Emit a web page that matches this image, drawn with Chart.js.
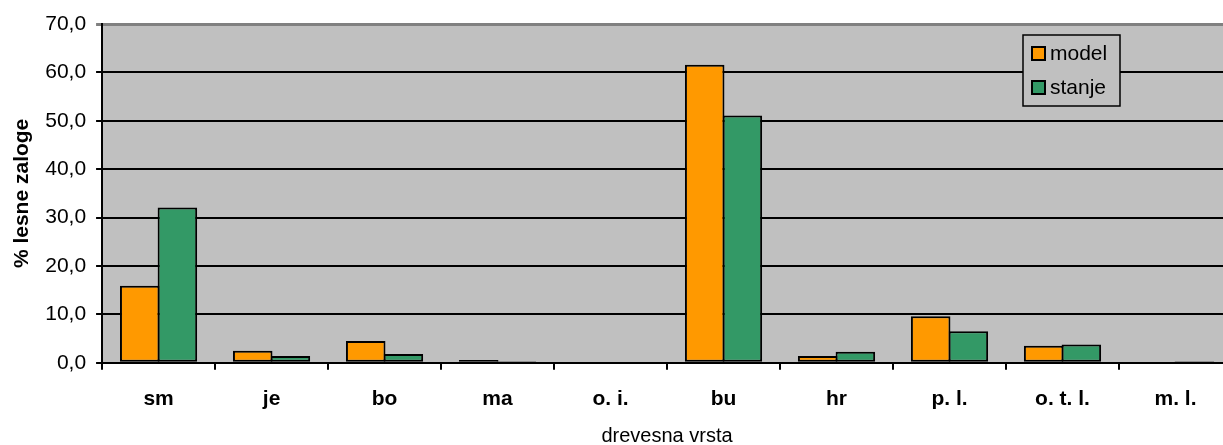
<!DOCTYPE html>
<html>
<head>
<meta charset="utf-8">
<script src="https://cdn.jsdelivr.net/npm/chart.js@4.4.1/dist/chart.umd.min.js"></script>
<style>
  html, body { margin: 0; padding: 0; background: #fff; overflow: hidden; }
  #wrap { position: relative; width: 1232px; height: 448px; }
</style>
</head>
<body>
<div id="wrap"><canvas id="chart"></canvas></div>
<script>
const categories = ['sm', 'je', 'bo', 'ma', 'o. i.', 'bu', 'hr', 'p. l.', 'o. t. l.', 'm. l.'];
const modelValues = [15.9, 2.5, 4.5, 0.6, 0, 61.6, 1.4, 9.6, 3.5, 0];
const stanjeValues = [32.1, 1.4, 1.8, 0.3, 0, 51.1, 2.3, 6.5, 3.8, 0.3];

const FONT = 'Arial, "Liberation Sans", sans-serif';

// legend box inside the plot, top right
const boxLegend = {
    id: 'boxLegend',
    afterDraw(chart) {
        const c = chart.ctx;
        const x = 1023, y = 35, w = 97, h = 71;
        c.save();
        c.fillStyle = '#c0c0c0';
        c.fillRect(x, y, w, h);
        c.strokeStyle = '#000';
        c.lineWidth = 1.5;
        c.strokeRect(x, y, w, h);
        c.font = '21px ' + FONT;
        c.textBaseline = 'middle';
        chart.data.datasets.forEach(function(ds, i) {
            const sy = y + 12 + i * 34;
            c.fillStyle = ds.backgroundColor;
            c.fillRect(x + 9, sy, 13, 13);
            c.lineWidth = 2;
            c.strokeRect(x + 9, sy, 13, 13);
            c.fillStyle = '#000';
            c.fillText(ds.label, x + 27, sy + 7);
        });
        c.restore();
    }
};

const ctx = document.getElementById('chart').getContext('2d');
const chart = new Chart(ctx, {
    type: 'bar',
    data: {
        labels: categories,
        datasets: [
            {
                label: 'model',
                data: modelValues,
                backgroundColor: '#ff9900',
                borderColor: '#000',
                borderWidth: 2,
                borderSkipped: false
            },
            {
                label: 'stanje',
                data: stanjeValues,
                backgroundColor: '#339966',
                borderColor: '#000',
                borderWidth: 2,
                borderSkipped: false
            }
        ]
    },
    options: {
        responsive: true,
        maintainAspectRatio: false,
        animation: false,
        categoryPercentage: 2 / 3,
        barPercentage: 1.05,
        layout: { padding: { top: 24, left: 10, right: 0, bottom: 0 } },
        plugins: {
            legend: { display: false },
            tooltip: { enabled: false }
        },
        scales: {
            x: {
                offset: true,
                grid: {
                    offset: true,
                    drawOnChartArea: false,
                    color: '#000',
                    lineWidth: 2,
                    tickLength: 7
                },
                border: { color: '#000', width: 2 },
                ticks: {
                    color: '#000',
                    padding: 17,
                    font: { family: FONT, size: 21, weight: 'bold' }
                },
                title: {
                    display: true,
                    text: 'drevesna vrsta',
                    color: '#000',
                    font: { family: FONT, size: 20 },
                    padding: { top: -5, bottom: 0 }
                }
            },
            y: {
                min: 0,
                max: 70,
                ticks: {
                    stepSize: 10,
                    color: '#000',
                    padding: 10,
                    font: { family: FONT, size: 21 },
                    callback: function(v) { return v.toFixed(1).replace('.', ','); }
                },
                grid: {
                    color: function(c) { return c.tick && c.tick.value === 70 ? '#808080' : '#000'; },
                    lineWidth: function(c) { return c.tick && c.tick.value === 70 ? 3 : 2; },
                    tickLength: 6
                },
                border: { color: '#000', width: 2 },
                title: {
                    display: true,
                    text: '% lesne zaloge',
                    color: '#000',
                    font: { family: FONT, size: 21, weight: 'bold' },
                    padding: { top: 0, bottom: 0 }
                }
            }
        }
    },
    plugins: [
        {
            id: 'plotBackground',
            beforeDraw(chart) {
                const a = chart.chartArea;
                chart.ctx.save();
                chart.ctx.fillStyle = '#c0c0c0';
                chart.ctx.fillRect(a.left, a.top, a.right - a.left, a.bottom - a.top);
                chart.ctx.restore();
            }
        },
        boxLegend
    ]
});
</script>
</body>
</html>
